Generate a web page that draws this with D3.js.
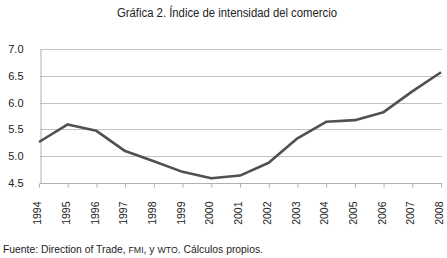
<!DOCTYPE html>
<html>
<head>
<meta charset="utf-8">
<script src="https://cdn.jsdelivr.net/npm/d3@7"></script>
<style>
  body { margin: 0; background: #fff; }
  svg { display: block; }
</style>
</head>
<body>
<div id="chart"></div>
<script>
const years = ["1994", "1995", "1996", "1997", "1998", "1999", "2000", "2001",
  "2002", "2003", "2004", "2005", "2006", "2007", "2008"];
const indice = [5.26, 5.59, 5.47, 5.09, 4.90, 4.70, 4.58, 4.63,
  4.87, 5.33, 5.64, 5.67, 5.82, 6.21, 6.57];
const yTicks = [4.5, 5.0, 5.5, 6.0, 6.5, 7.0];

const width = 447, height = 258;
const margin = { top: 49, right: 5, bottom: 76, left: 40 };

const svg = d3.select("#chart").append("svg")
  .attr("width", width)
  .attr("height", height);

const x = d3.scalePoint()
  .domain(years)
  .range([margin.left - 1, width - margin.right - 1]);

const y = d3.scaleLinear()
  .domain([4.5, 7.0])
  .range([height - margin.bottom + 0.5, margin.top + 0.3]);

// title
svg.append("text")
  .attr("x", 227)
  .attr("y", 17)
  .attr("text-anchor", "middle")
  .attr("textLength", 220)
  .attr("lengthAdjust", "spacingAndGlyphs")
  .style("font-family", "'Liberation Sans Narrow', 'Arial Narrow', 'Liberation Sans', sans-serif")
  .style("font-size", "12px")
  .attr("fill", "#222")
  .text("Gráfica 2. Índice de intensidad del comercio");

// gridlines
svg.append("g")
  .selectAll("line")
  .data(yTicks.slice(1))
  .enter().append("line")
  .attr("x1", margin.left)
  .attr("x2", x("2008") + 1)
  .attr("y1", d => Math.round(y(d)) + 0.5)
  .attr("y2", d => Math.round(y(d)) + 0.5)
  .attr("stroke", "#c4c4c4")
  .attr("stroke-width", 1);

// y axis
const yAxis = svg.append("g")
  .attr("transform", `translate(${margin.left + 0.5},0)`)
  .call(d3.axisLeft(y).tickValues(yTicks).tickFormat(d3.format(".1f")).tickSize(0).tickPadding(17));
yAxis.select(".domain").attr("stroke", "#b0b0b0");
yAxis.selectAll("text")
  .style("font-family", "'Liberation Sans', Arial, sans-serif")
  .style("font-size", "11px")
  .attr("fill", "#222");

// x axis
const xAxis = svg.append("g")
  .attr("transform", `translate(0,${Math.round(y(4.5)) + 0.5})`)
  .call(d3.axisBottom(x).tickSize(4).tickSizeOuter(0).tickPadding(0));
xAxis.select(".domain").attr("stroke", "#b0b0b0")
  .attr("d", `M${margin.left},0H${x("2008") + 1}`);
xAxis.selectAll(".tick line").attr("stroke", "#b0b0b0");
xAxis.selectAll("text")
  .attr("transform", "rotate(-90)")
  .attr("x", -18)
  .attr("y", -2)
  .attr("dy", "0.35em")
  .attr("text-anchor", "end")
  .style("font-family", "'Liberation Sans', Arial, sans-serif")
  .style("font-size", "10.5px")
  .attr("fill", "#222");

// line
const line = d3.line()
  .x((d, i) => x(years[i]))
  .y(d => y(d));

svg.append("path")
  .datum(indice)
  .attr("d", line)
  .attr("fill", "none")
  .attr("stroke", "#505050")
  .attr("stroke-width", 2.6)
  .attr("stroke-linejoin", "round");

// source note
const note = svg.append("text")
  .attr("x", 3)
  .attr("y", 253)
  .attr("textLength", 260)
  .attr("lengthAdjust", "spacingAndGlyphs")
  .style("font-family", "'Liberation Sans Narrow', 'Arial Narrow', 'Liberation Sans', sans-serif")
  .style("font-size", "10px")
  .attr("fill", "#222");
note.append("tspan").text("Fuente: Direction of Trade, ");
note.append("tspan").style("font-size", "8.5px").text("FMI");
note.append("tspan").text(", y ");
note.append("tspan").style("font-size", "8.5px").text("WTO");
note.append("tspan").text(". Cálculos propios.");
</script>
</body>
</html>
